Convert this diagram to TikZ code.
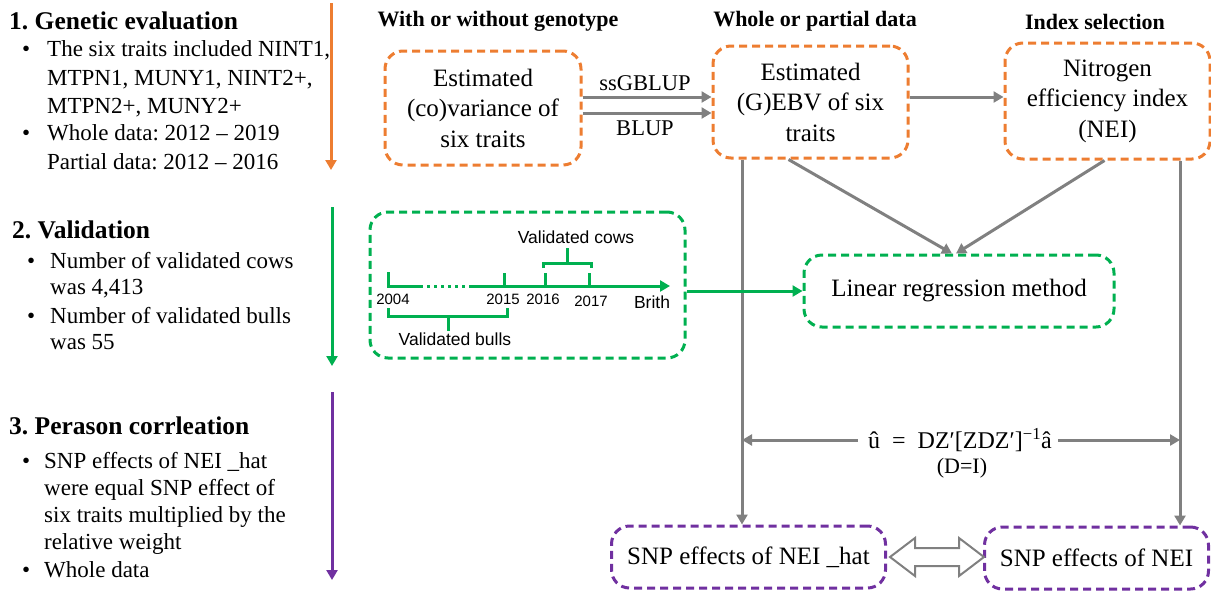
\documentclass[tikz,border=0pt]{standalone}
\usepackage{fontspec}
\setmainfont{Liberation Serif}
\newfontfamily\arialfont{Liberation Sans}
\usetikzlibrary{arrows.meta,calc}
\definecolor{orng}{HTML}{ED7D31}
\definecolor{grn}{HTML}{00B050}
\definecolor{purp}{HTML}{7030A0}
\definecolor{gry}{HTML}{808080}
\frenchspacing
\begin{document}
\begin{tikzpicture}[x=1pt,y=-1pt,
  box/.style={line width=3pt, dash pattern=on 8pt off 5pt, rounded corners=18pt, align=center, inner sep=0pt, font=\fontsize{25}{30.5}\selectfont},
  obox/.style={box, draw=orng},
  gbox/.style={box, draw=grn},
  pbox/.style={box, draw=purp},
  garrow/.style={draw=gry, line width=3pt, -{Triangle[length=10pt,width=11pt]}},
  hdr/.style={inner sep=0pt, font=\fontsize{22}{26}\selectfont\bfseries},
  ttl/.style={anchor=base west, inner sep=0pt, font=\fontsize{25.5}{30}\selectfont\bfseries},
  ltxt/.style={anchor=base west, inner sep=0pt, font=\fontsize{23}{28}\selectfont},
  lbl/.style={inner sep=0pt, font=\fontsize{22.5}{26}\selectfont},
  tl/.style={inner sep=0pt, font=\arialfont\fontsize{15}{18}\selectfont},
  tlb/.style={inner sep=0pt, font=\arialfont\fontsize{17.5}{20}\selectfont},
  gline/.style={draw=grn, line width=3pt},
  sidearrow/.style={line width=3pt, -{Triangle[length=10pt,width=11pt]}}
]
\useasboundingbox (0,0) rectangle (1211,590);

% ---------- left column ----------
\node[ttl] (t1) at (9,29) {1. Genetic evaluation};
\node[ltxt] (b11) at (22,56) {•};
\node[ltxt] (l11) at (47,56) {The six traits included NINT1,};
\node[ltxt] (l12) at (47,85) {MTPN1, MUNY1, NINT2+,};
\node[ltxt] (l13) at (47,113) {MTPN2+, MUNY2+};
\node[ltxt] (b12) at (22,140) {•};
\node[ltxt] (l14) at (47,140) {Whole data: 2012 – 2019};
\node[ltxt] (l15) at (47,169) {Partial data: 2012 – 2016};
\coordinate (o1) at (331,3); \coordinate (o2) at (331,170);
\draw[sidearrow, orng] (o1) -- (o2);

\node[ttl] (t2) at (12,238) {2. Validation};
\node[ltxt] (b21) at (27,268) {•};
\node[ltxt] (l21) at (50,268) {Number of validated cows};
\node[ltxt] (l22) at (50,294) {was 4,413};
\node[ltxt] (b22) at (27,323) {•};
\node[ltxt] (l23) at (50,323) {Number of validated bulls};
\node[ltxt] (l24) at (50,349) {was 55};
\coordinate (g1) at (332,207); \coordinate (g2) at (332,366);
\draw[sidearrow, grn] (g1) -- (g2);

\node[ttl] (t3) at (9,434) {3. Perason corrleation};
\node[ltxt] (b31) at (22,468) {•};
\node[ltxt] (l31) at (44,468) {SNP effects of NEI \_hat};
\node[ltxt] (l32) at (44,495) {were equal SNP effect of};
\node[ltxt] (l33) at (44,522) {six traits multiplied by the};
\node[ltxt] (l34) at (44,549) {relative weight};
\node[ltxt] (b32) at (22,577) {•};
\node[ltxt] (l35) at (44,577) {Whole data};
\coordinate (p1) at (332,392); \coordinate (p2) at (332,580);
\draw[sidearrow, purp] (p1) -- (p2);

% ---------- headers ----------
\node[hdr] (h1) at (498,21) {With or without genotype};
\node[hdr] (h2) at (815,21) {Whole or partial data};
\node[hdr] (h3) at (1095,22) {Index selection};

% ---------- boxes ----------
\node[obox, minimum width=196pt, minimum height=114pt] (A) at (483,108) {Estimated\\(co)variance of\\six traits};
\node[obox, minimum width=195pt, minimum height=112pt] (B) at (810.5,102) {Estimated\\(G)EBV of six\\traits};
\node[obox, minimum width=205pt, minimum height=116pt] (C) at (1107.5,101) {Nitrogen\\efficiency index\\(NEI)};
\node[gbox, minimum width=315pt, minimum height=146pt] (D) at (527.5,285) {};
\node[gbox, minimum width=310pt, minimum height=72pt] (E) at (959,291) {Linear regression method};
\node[pbox, minimum width=274pt, minimum height=62pt] (F) at (748.5,557) {SNP effects of NEI \_hat};
\node[pbox, minimum width=224pt, minimum height=62pt] (G) at (1096.5,558) {SNP effects of NEI};

% ---------- connectors top ----------
\draw[garrow] ($(A.east)+(0,-11)$) coordinate (s1) -- (s1 -| B.west);
\draw[garrow] ($(A.east)+(0,5)$) coordinate (s2) -- (s2 -| B.west);
\node[lbl] (ssg) at (645,83) {ssGBLUP};
\node[lbl] (blup) at (645,128) {BLUP};
\draw[garrow] ($(B.east)+(0,-5)$) coordinate (s3) -- (s3 -| C.west);

\draw[garrow] ($(B.south)+(-22,0)$) -- ($(E.north)+(-7,0)$);
\draw[garrow] ($(C.south)+(-3,0)$) -- ($(E.north)+(-3,0)$);

% ---------- verticals and formula ----------
\coordinate (vl) at (742,0);
\coordinate (vr) at (1180,0);
\draw[garrow] (B.south -| vl) -- (F.north -| vl);
\draw[garrow] (C.south -| vr) -- (G.north -| vr);
\node[inner sep=0pt, font=\fontsize{24}{28}\selectfont] (eq) at (960,440) {û\enspace=\enspace DZ′[ZDZ′]\textsuperscript{−1}â};
\node[lbl, font=\fontsize{22}{26}\selectfont] (di) at (962,468) {(D=I)};
\draw[garrow] ($(eq.west)+(-10,0)$) -- (eq.west -| vl);
\draw[garrow] ($(eq.east)+(6,0)$) -- (eq.east -| vr);

% ---------- hollow double arrow ----------
\draw[draw=gry, line width=2pt, fill=white, line join=miter]
  ($(F.east)+(3,0)$) -- ++(25,-19) -- ++(0,10) -- ++(44,0) -- ++(0,-10)
  -- ++(25,19) -- ++(-25,19) -- ++(0,-10) -- ++(-44,0) -- ++(0,10) -- cycle;

% ---------- green connector ----------
\draw[gline, -{Triangle[length=10pt,width=11pt]}] (E.west -| D.east) -- (E.west);

% ---------- timeline inside D ----------
\coordinate (ax0) at (387,286);
\coordinate (ax1) at (420,286);
\coordinate (ax2) at (470,286);
\coordinate (ax3) at (670,286);
\draw[gline] (ax0) -- (ax1);
\draw[gline, dash pattern=on 3pt off 4pt] (ax1) -- (ax2);
\draw[gline, -{Triangle[length=10pt,width=11pt]}] (ax2) -- (ax3);
\draw[gline] (388,272) -- (388,287);
\draw[gline] (504,273) -- (504,287);
\draw[gline] (545,273) -- (545,287);
\draw[gline] (589,273) -- (589,287);
\draw[gline] (543,268) -- (543,263) -- (591,263) -- (591,268);
\draw[gline] (567,263) -- (567,248);
\draw[gline] (388,308) -- (388,316) -- (507,316) -- (507,308);
\draw[gline] (448,316) -- (448,331);
\node[tl] (y04) at (393,299) {2004};
\node[tl] (y15) at (503,299) {2015};
\node[tl] (y16) at (543,299) {2016};
\node[tl] (y17) at (591,301) {2017};
\node[tlb] (br) at (652,302) {Brith};
\node[tlb] (vc) at (576,237) {Validated cows};
\node[tlb] (vb) at (455,339) {Validated bulls};
\end{tikzpicture}
\end{document}
